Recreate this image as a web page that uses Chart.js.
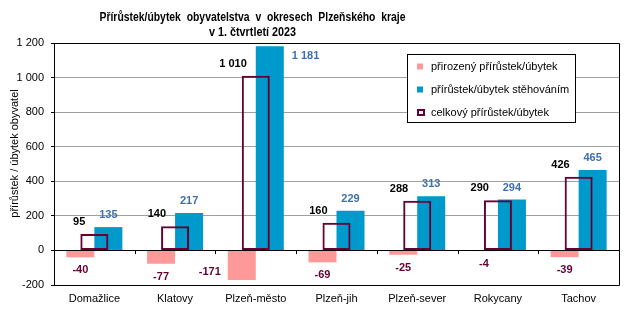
<!DOCTYPE html>
<html>
<head>
<meta charset="utf-8">
<script src="https://cdn.jsdelivr.net/npm/chart.js@4"></script>
<style>
html,body{margin:0;padding:0;background:#fff;}
#wrap{width:637px;height:321px;position:relative;}
</style>
</head>
<body>
<div id="wrap"><canvas id="c" width="637" height="321"></canvas></div>
<script>
const categories = ['Domažlice','Klatovy','Plzeň-město','Plzeň-jih','Plzeň-sever','Rokycany','Tachov'];
const naturalChange = [-40,-77,-171,-69,-25,-4,-39];
const migrationChange = [135,217,1181,229,313,294,465];
const totalChange = [95,140,1010,160,288,290,426];
const yTicks = [-200,0,200,400,600,800,1000,1200];
const seriesNames = ['přirozený přírůstek/úbytek','přírůstek/úbytek stěhováním','celkový přírůstek/úbytek'];
const titleLines = ['Přírůstek/úbytek  obyvatelstva  v  okresech  Plzeňského  kraje','v 1. čtvrtletí 2023'];
const yTitle = 'přírůstek / úbytek obyvatel';

const FONT = "'Liberation Sans', Arial, sans-serif";
const NARROW = "'Liberation Sans Narrow', 'Arial Narrow', 'Liberation Sans', Arial, sans-serif";
const PINK = '#FF9999', BLUE = '#0099CC', MAROON = '#660033';
const fmt = v => { const s = Math.abs(v).toString().replace(/\B(?=(\d{3})+(?!\d))/g, ' '); return (v < 0 ? '-' : '') + s; };

function fitText(ctx, text, cx, cy, targetW) {
  const w = ctx.measureText(text).width;
  const k = w > targetW * 1.03 ? targetW / w : 1;
  ctx.save();
  ctx.translate(cx, cy);
  ctx.scale(k, 1);
  ctx.fillText(text, 0, 0);
  ctx.restore();
}

const decor = {
  id: 'decor',
  beforeDatasetsDraw(chart) {
    const {ctx, scales} = chart;
    const y0 = Math.round(scales.y.getPixelForValue(0));
    ctx.save();
    ctx.strokeStyle = '#000'; ctx.lineWidth = 1;
    ctx.beginPath();
    const x = scales.x;
    for (let i = 1; i < categories.length; i++) {
      const px = Math.round((x.getPixelForValue(i - 1) + x.getPixelForValue(i)) / 2) + 0.5;
      ctx.moveTo(px, y0); ctx.lineTo(px, y0 + 4);
    }
    ctx.stroke();
    ctx.restore();
  },
  afterDatasetsDraw(chart) {
    const {ctx, chartArea: a, scales} = chart;
    ctx.save();
    const y0 = Math.round(scales.y.getPixelForValue(0)) + 0.5;
    ctx.strokeStyle = '#000'; ctx.lineWidth = 1;
    ctx.beginPath();
    ctx.moveTo(a.left, y0); ctx.lineTo(a.right, y0);
    ctx.stroke();
    ctx.beginPath();
    ctx.rect(Math.round(a.left) + 0.5, Math.round(a.top) + 0.5, Math.round(a.right) - Math.round(a.left), Math.round(a.bottom) - Math.round(a.top));
    ctx.stroke();

    // data labels
    ctx.font = 'bold 11px ' + FONT;
    ctx.textBaseline = 'middle';
    chart.data.datasets.forEach((ds, di) => {
      const meta = chart.getDatasetMeta(di);
      meta.data.forEach((el, i) => {
        const v = ds.data[i];
        const t = fmt(v);
        const w = el.width;
        if (di === 0) {
          ctx.fillStyle = MAROON;
          const bottom = el.y;
          if (bottom + 19 > a.bottom) {
            ctx.textAlign = 'right';
            ctx.fillText(t, el.x - w / 2 - 7, bottom - 8);
          } else {
            ctx.textAlign = 'center';
            ctx.fillText(t, el.x, bottom + 13);
          }
        } else if (di === 1) {
          ctx.fillStyle = '#3E6FAF';
          const top = el.y;
          if (top - 18 < a.top) {
            ctx.textAlign = 'left';
            ctx.fillText(t, el.x + w / 2 + 8, top + 10);
          } else {
            ctx.textAlign = 'center';
            ctx.fillText(t, el.x, top - 12);
          }
        } else {
          ctx.fillStyle = '#000';
          ctx.textAlign = 'right';
          ctx.fillText(t, el.x - 9, el.y - 12);
        }
      });
    });

    // legend
    const L = {x: 407.5, y: 54.5, w: 168, h: 68};
    ctx.fillStyle = '#fff';
    ctx.fillRect(L.x, L.y, L.w, L.h);
    ctx.strokeStyle = '#000'; ctx.lineWidth = 1;
    ctx.strokeRect(L.x, L.y, L.w, L.h);
    const rows = [66.5, 89.5, 113];
    ctx.font = '11px ' + FONT;
    ctx.textAlign = 'left'; ctx.textBaseline = 'middle';
    ctx.fillStyle = PINK; ctx.fillRect(417, rows[0] - 3, 6, 6);
    ctx.fillStyle = BLUE; ctx.fillRect(417, rows[1] - 3, 6, 6);
    ctx.strokeStyle = MAROON; ctx.lineWidth = 2;
    ctx.strokeRect(418, rows[2] - 3, 6, 5);
    ctx.fillStyle = '#000';
    seriesNames.forEach((n, k) => ctx.fillText(n, 431, rows[k]));

    // title
    ctx.font = 'bold 13px ' + NARROW;
    ctx.textAlign = 'center';
    fitText(ctx, titleLines[0], 252.5, 17.5, 306);
    fitText(ctx, titleLines[1], 252.5, 32.5, 87);

    // y title
    ctx.font = '11px ' + FONT;
    ctx.translate(15, 153.5);
    ctx.rotate(-Math.PI / 2);
    ctx.fillText(yTitle, 0, 0);
    ctx.restore();
  }
};

new Chart(document.getElementById('c'), {
  type: 'bar',
  data: {
    labels: categories,
    datasets: [
      {label: seriesNames[0], data: naturalChange, backgroundColor: PINK, order: 1, categoryPercentage: 0.694, barPercentage: 1},
      {label: seriesNames[1], data: migrationChange, backgroundColor: BLUE, order: 1, categoryPercentage: 0.694, barPercentage: 1},
      {label: seriesNames[2], data: totalChange, backgroundColor: 'rgba(0,0,0,0)', borderColor: MAROON, borderWidth: 2, borderSkipped: false, order: 0, grouped: false, categoryPercentage: 0.347, barPercentage: 1}
    ]
  },
  options: {
    responsive: false,
    animation: false,
    events: [],
    layout: {padding: {left: 0, top: 43, right: 18, bottom: 0}},
    plugins: {legend: {display: false}, tooltip: {enabled: false}, title: {display: false}},
    scales: {
      x: {
        type: 'category', position: 'bottom', offset: true,
        grid: {display: false, drawTicks: false},
        border: {display: false},
        ticks: {color: '#000', font: {family: FONT, size: 11}, padding: 7, maxRotation: 0, autoSkip: false},
        afterFit(s) { s.height = 36; }
      },
      y: {
        min: -200, max: 1200,
        afterBuildTicks(s) { s.ticks = yTicks.map(v => ({value: v})); },
        grid: {color: '#A0A0A0', tickColor: '#000', tickLength: 3, lineWidth: 1},
        border: {display: true, color: '#000'},
        ticks: {color: '#000', font: {family: FONT, size: 11}, padding: 7, callback: v => fmt(v)},
        afterFit(s) { s.width = 54; }
      }
    }
  },
  plugins: [decor]
});
</script>
</body>
</html>
